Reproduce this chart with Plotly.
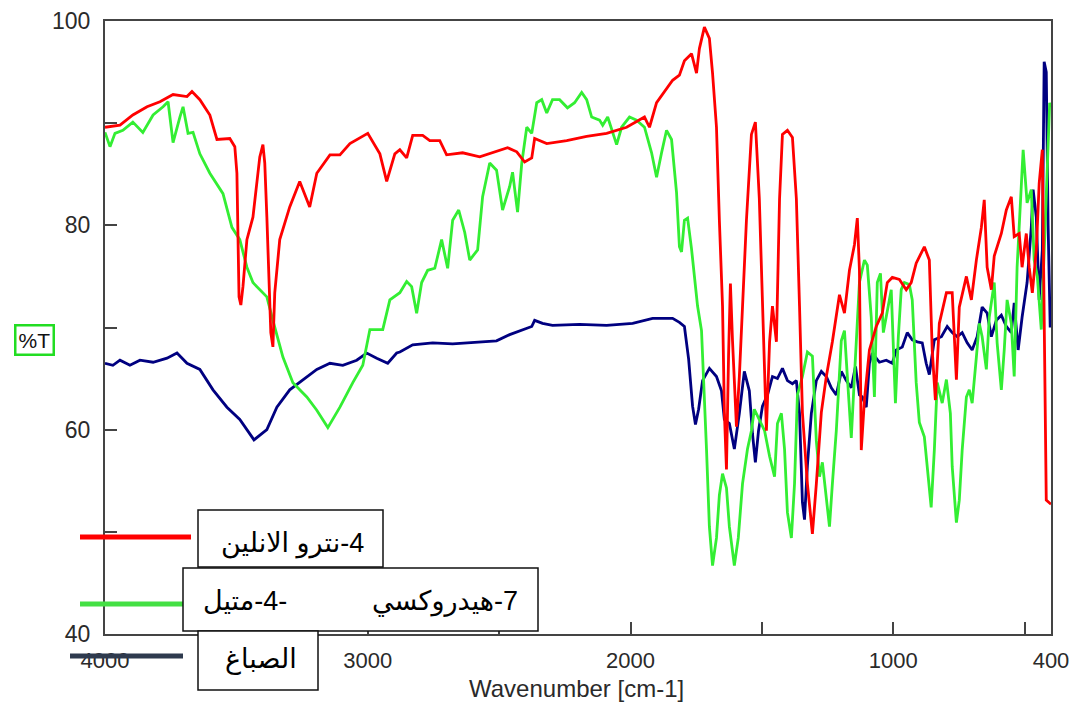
import plotly.graph_objects as go

# ---------------- data ----------------
red_wn = [4000, 3943, 3894, 3840, 3791, 3741, 3688, 3669, 3639, 3601, 3574, 3525, 3506, 3498, 3490, 3483,
          3475, 3460, 3437, 3411, 3399, 3392, 3384, 3376, 3369, 3361, 3354, 3335, 3297, 3259, 3221, 3194,
          3144, 3106, 3068, 3000, 2954, 2928, 2897, 2878, 2852, 2829, 2791, 2764, 2726, 2700, 2639, 2574,
          2525, 2468, 2433, 2403, 2376, 2365, 2319, 2243, 2167, 2091, 2015, 1947, 1928, 1901, 1840, 1814,
          1795, 1768, 1749, 1738, 1719, 1700, 1688, 1673, 1662, 1650, 1643, 1635, 1627, 1620, 1612, 1597,
          1586, 1574, 1559, 1540, 1525, 1510, 1498, 1483, 1471, 1460, 1445, 1433, 1422, 1403, 1384, 1369,
          1357, 1346, 1327, 1308, 1293, 1274, 1255, 1232, 1205, 1186, 1167, 1148, 1137, 1129, 1122, 1110,
          1091, 1065, 1042, 1023, 1004, 977, 951, 932, 913, 882, 863, 852, 840, 825, 798, 776, 760, 749,
          722, 703, 684, 665, 654, 643, 627, 616, 589, 570, 551, 540, 521, 510, 494, 483, 471, 456, 445,
          433, 426, 418, 400]
red_t = [89.6, 89.8, 90.8, 91.6, 92.1, 92.8, 92.6, 93.1, 92.3, 90.8, 88.4, 88.5, 87.7, 85.1, 73.0, 72.2,
         74.0, 78.6, 80.8, 86.7, 87.9, 86.1, 80.8, 75.0, 69.5, 68.1, 73.4, 78.6, 81.8, 84.3, 81.8, 85.1,
         86.9, 86.9, 88.0, 89.0, 87.0, 84.3, 87.0, 87.4, 86.6, 88.8, 88.8, 88.3, 88.3, 86.9, 87.1, 86.7,
         87.1, 87.6, 87.2, 86.2, 86.6, 88.5, 88.0, 88.3, 88.7, 89.0, 89.6, 90.6, 89.6, 92.0, 94.2, 94.7,
         96.1, 96.8, 94.9, 97.3, 99.4, 98.3, 94.9, 89.6, 80.5, 72.1, 61.7, 56.1, 67.3, 74.3, 68.7, 60.3,
         65.2, 72.8, 80.5, 88.9, 90.1, 82.6, 72.8, 59.9, 68.6, 72.1, 68.6, 82.6, 88.9, 89.3, 88.6, 82.6,
         72.1, 61.7, 54.7, 49.8, 54.7, 61.7, 65.2, 68.6, 73.2, 71.4, 75.6, 78.1, 80.7, 75.6, 58.0, 62.9,
         67.8, 70.1, 71.4, 74.4, 74.9, 74.7, 73.7, 74.4, 76.3, 77.9, 76.6, 67.8, 62.9, 70.4, 73.4, 73.4, 64.9, 72.0,
         75.0, 72.7, 76.6, 79.8, 82.5, 75.9, 73.7, 77.0, 79.2, 81.5, 82.8, 78.9, 79.2, 75.9, 79.2, 75.9, 73.4, 77.6, 84.1,
         87.4, 71.0, 53.1, 52.7]

green_wn = [4000, 3981, 3962, 3932, 3894, 3856, 3817, 3779, 3760, 3741, 3715, 3703, 3684, 3665, 3639, 3601,
            3551, 3517, 3487, 3460, 3437, 3384, 3361, 3323, 3285, 3232, 3194, 3152, 3106, 3057, 3019, 2992,
            2943, 2916, 2878, 2852, 2833, 2814, 2795, 2772, 2745, 2719, 2696, 2677, 2654, 2631, 2612, 2582,
            2563, 2536, 2510, 2487, 2460, 2449, 2430, 2414, 2395, 2376, 2357, 2338, 2319, 2297, 2270, 2240,
            2213, 2186, 2167, 2148, 2118, 2106, 2087, 2068, 2053, 2034, 2004, 1977, 1947, 1920, 1901, 1882,
            1863, 1844, 1825, 1814, 1806, 1795, 1783, 1768, 1757, 1745, 1730, 1722, 1711, 1700, 1688, 1673,
            1662, 1650, 1635, 1624, 1605, 1590, 1574, 1555, 1540, 1529, 1510, 1490, 1471, 1452, 1441, 1426,
            1414, 1403, 1388, 1376, 1365, 1346, 1327, 1308, 1293, 1281, 1270, 1255, 1243, 1232, 1217, 1198,
            1186, 1175, 1160, 1148, 1129, 1110, 1099, 1084, 1072, 1061, 1049, 1038, 1023, 1008, 992, 981,
            970, 958, 939, 928, 913, 901, 882, 871, 856, 844, 833, 814, 798, 783, 776, 760, 749, 738, 722,
            711, 700, 684, 673, 662, 646, 635, 616, 605, 589, 578, 567, 551, 540, 529, 513, 506, 491, 475,
            464, 452, 437, 418, 405, 400]
green_t = [89.1, 87.7, 89.0, 89.3, 90.1, 89.1, 90.8, 91.6, 92.1, 88.1, 90.6, 91.6, 89.0, 89.1, 87.0, 85.1,
           83.1, 79.8, 78.6, 75.9, 74.4, 73.0, 70.7, 67.1, 64.6, 63.2, 61.9, 60.2, 62.2, 64.6, 66.3, 69.8,
           69.8, 72.7, 73.4, 74.5, 74.0, 71.4, 74.4, 75.6, 75.8, 78.6, 75.8, 80.5, 81.5, 79.3, 76.6, 77.6,
           82.8, 86.1, 85.4, 81.5, 83.8, 85.2, 81.3, 86.1, 89.6, 89.0, 92.0, 92.3, 91.0, 92.3, 92.3, 91.5,
           92.0, 93.0, 92.3, 90.6, 90.3, 89.8, 90.6, 89.0, 87.9, 89.6, 90.6, 90.3, 89.6, 87.1, 84.7, 87.1,
           89.3, 88.4, 83.2, 77.9, 77.4, 80.5, 80.7, 77.7, 75.0, 72.1, 69.7, 65.2, 58.1, 50.5, 46.7, 49.4,
           53.6, 55.7, 54.3, 50.5, 46.7, 49.4, 54.7, 58.1, 59.9, 62.0, 61.0, 59.9, 57.4, 55.4, 60.6, 61.6,
           58.1, 51.9, 49.4, 54.7, 63.4, 65.2, 67.6, 67.2, 58.9, 55.4, 56.8, 52.9, 50.5, 54.7, 59.9, 68.7,
           69.7, 65.2, 59.2, 65.2, 74.4, 76.6, 76.1, 71.0, 63.2, 74.4, 75.3, 69.5, 71.7, 73.7, 62.6, 69.1,
           73.7, 74.4, 74.2, 72.7, 64.6, 60.7, 59.3, 56.4, 52.4, 58.0, 64.6, 62.6, 64.9, 61.6, 56.4, 50.9, 53.1, 58.0, 63.2,
           63.9, 62.6, 67.1, 70.4, 69.1, 65.9, 71.0, 74.4, 68.5, 63.9, 67.8, 72.7, 70.4, 65.2, 75.9, 84.1, 87.4, 82.2, 83.5,
           76.6, 75.0, 69.8, 84.1, 92.0, 91.5]

blue_wn = [4000, 3970, 3943, 3905, 3867, 3817, 3764, 3726, 3688, 3639, 3589, 3536, 3487, 3433, 3384, 3346,
           3297, 3247, 3194, 3144, 3095, 3042, 3004, 2966, 2924, 2890, 2878, 2829, 2753, 2677, 2586, 2510,
           2460, 2411, 2376, 2365, 2335, 2297, 2194, 2091, 1992, 1916, 1840, 1814, 1795, 1779, 1764, 1753,
           1741, 1726, 1700, 1673, 1654, 1643, 1624, 1605, 1586, 1567, 1548, 1536, 1525, 1513, 1498, 1479,
           1460, 1441, 1422, 1403, 1384, 1369, 1357, 1346, 1338, 1327, 1312, 1293, 1274, 1255, 1236, 1217,
           1198, 1179, 1160, 1144, 1129, 1118, 1103, 1091, 1080, 1053, 1027, 1004, 989, 966, 947, 928, 909,
           890, 875, 863, 844, 817, 795, 776, 757, 738, 719, 700, 681, 662, 643, 627, 608, 589, 570, 551,
           540, 525, 510, 491, 475, 468, 456, 445, 433, 426, 418, 411, 403]
blue_t = [66.5, 66.3, 66.8, 66.3, 66.8, 66.6, 67.0, 67.5, 66.5, 65.9, 63.9, 62.2, 61.0, 59.0, 60.0, 62.2,
          63.9, 64.9, 65.9, 66.5, 66.3, 66.8, 67.5, 67.0, 66.5, 67.5, 67.6, 68.3, 68.5, 68.4, 68.6, 68.7,
          69.3, 69.8, 70.1, 70.7, 70.4, 70.2, 70.3, 70.2, 70.4, 70.9, 70.9, 70.5, 70.1, 66.9, 62.3, 60.5,
          62.0, 64.8, 66.0, 65.2, 63.8, 61.0, 60.6, 58.1, 61.6, 65.7, 63.8, 59.6, 56.8, 59.9, 62.3, 63.4,
          65.2, 65.0, 66.0, 64.8, 64.5, 64.8, 61.6, 52.9, 51.2, 56.5, 61.6, 64.8, 65.7, 65.2, 64.1, 63.4,
          65.7, 64.8, 64.1, 66.2, 63.4, 63.2, 62.2, 66.5, 67.5, 66.6, 66.8, 66.5, 67.8, 68.1, 69.5, 68.8, 68.6,
          68.5, 66.5, 65.4, 68.8, 69.1, 70.1, 69.5, 69.1, 69.5, 68.5, 67.8, 69.1, 72.0, 71.4, 69.1, 70.7, 71.2, 70.1, 69.5,
          72.4, 67.8, 71.0, 74.4, 79.8, 83.5, 80.8, 72.7, 77.6, 96.0, 95.0, 80.0, 70.0]

x_tick_vals = [4000, 3500, 3000, 2500, 2000, 1500, 1000, 500, 400]
x_tick_text = ["4000", "", "3000", "", "2000", "", "1000", "", "400"]
y_tick_vals = [40, 50, 60, 70, 80, 90, 100]
y_tick_text = ["40", "", "60", "", "80", "", "100"]

legend_names = ["\u202b4-نترو الانلين\u202c",
                "\u202b7-هيدروكسي\u202c",
                "\u202b-4-متيل\u202c",
                "الصباغ"]
x_title = "Wavenumber [cm-1]"
y_title = "%T"

RED = "#ff0000"
GREEN = "#33ee33"
BLUE = "#000080"
AXIS = "#444444"
TXT = "#2a2a2a"
FONT = "Liberation Sans, DejaVu Sans, Noto Sans, sans-serif"

# ---------------- layout geometry (pixels) ----------------
W, H = 1070, 702
L, R, T, B = 105, 1051, 21, 634


def px(x):
    return (x - L) / (R - L)


def py(y):
    return (B - y) / (B - T)


fig = go.Figure()
for wn, t, c in ((blue_wn, blue_t, BLUE), (green_wn, green_t, GREEN), (red_wn, red_t, RED)):
    fig.add_trace(go.Scatter(x=wn, y=t, mode="lines", line=dict(color=c, width=2.8),
                             showlegend=False, hoverinfo="skip"))

shapes = []
annotations = []

# legend sample lines
for x0, x1, y, c in ((80, 191, 537, RED), (80, 183, 604, "#44e044"), (70, 183, 656, "#2e3a4e")):
    shapes.append(dict(type="line", xref="paper", yref="paper", x0=px(x0), x1=px(x1), y0=py(y), y1=py(y),
                       line=dict(color=c, width=5), layer="above"))
# legend boxes
for x0, x1, y0, y1 in ((198, 383, 510, 567), (183, 538, 568, 631), (198, 318, 631, 690)):
    shapes.append(dict(type="rect", xref="paper", yref="paper", x0=px(x0), x1=px(x1), y0=py(y1), y1=py(y0),
                       fillcolor="white", line=dict(color="#111111", width=1.5), layer="above"))

LF = 27
annotations.append(dict(xref="paper", yref="paper", x=px(292), y=py(543), text=legend_names[0], showarrow=False,
                        font=dict(family=FONT, size=LF, color="#000"), xanchor="center", yanchor="middle"))
annotations.append(dict(xref="paper", yref="paper", x=px(520), y=py(601), text=legend_names[1], showarrow=False,
                        font=dict(family=FONT, size=LF, color="#000"), xanchor="right", yanchor="middle"))
annotations.append(dict(xref="paper", yref="paper", x=px(201), y=py(601), text=legend_names[2], showarrow=False,
                        font=dict(family=FONT, size=LF, color="#000"), xanchor="left", yanchor="middle"))
annotations.append(dict(xref="paper", yref="paper", x=px(261), y=py(659), text=legend_names[3], showarrow=False,
                        font=dict(family=FONT, size=LF, color="#000"), xanchor="center", yanchor="middle"))
# axis titles
annotations.append(dict(xref="paper", yref="paper", x=px(576), y=py(688), text=x_title, showarrow=False,
                        font=dict(family=FONT, size=24, color=TXT), xanchor="center", yanchor="middle"))
annotations.append(dict(xref="paper", yref="paper", x=px(34), y=py(340), text=y_title, showarrow=False,
                        font=dict(family=FONT, size=21, color="#111"), xanchor="center", yanchor="middle",
                        bordercolor="#22dd22", borderwidth=2.5, borderpad=2, bgcolor="white"))

fig.update_layout(
    width=W, height=H,
    margin=dict(l=L, r=W - R, t=T, b=H - B, pad=0, autoexpand=False),
    paper_bgcolor="white", plot_bgcolor="white",
    shapes=shapes, annotations=annotations,
    xaxis=dict(range=[4000, 400], tickvals=x_tick_vals, ticktext=x_tick_text, ticks="inside", ticklen=12,
               tickwidth=2, tickcolor=AXIS, showline=True, linecolor=AXIS, linewidth=2, mirror=True,
               showgrid=False, zeroline=False, tickfont=dict(family=FONT, size=22, color=TXT),
               ticklabelstandoff=6, automargin=False),
    yaxis=dict(range=[40, 100], tickvals=y_tick_vals, ticktext=y_tick_text, ticks="inside", ticklen=12,
               tickwidth=2, tickcolor=AXIS, showline=True, linecolor=AXIS, linewidth=2, mirror=True,
               showgrid=False, zeroline=False, tickfont=dict(family=FONT, size=23, color=TXT),
               ticklabelstandoff=8, automargin=False),
)

fig.write_html("out.html")
